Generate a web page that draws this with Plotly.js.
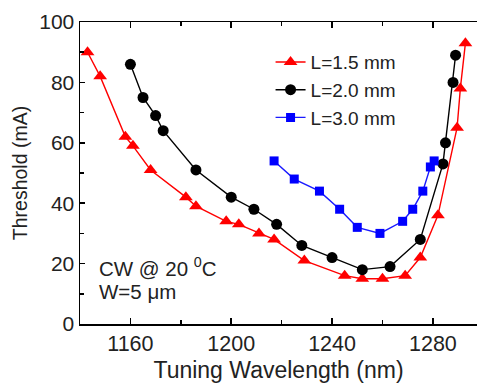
<!DOCTYPE html>
<html>
<head>
<meta charset="utf-8">
<script src="https://cdn.plot.ly/plotly-3.0.1.min.js"></script>
<style>
html,body{margin:0;padding:0;background:#fff;}
#chart{width:477px;height:383px;}
</style>
</head>
<body>
<div id="chart"></div>
<script>
var wl15 = [1143,1148,1158,1161,1168,1182,1186,1198,1203,1211,1217,1229,1245,1252,1260,1269,1275,1282,1289.6,1290.9,1292.9];
var th15 = [90,82,62,59,51,42,39,34,33,30,28,21,16,15,15,16,22,36,65,78,93];
var wl20 = [1160,1165,1170,1173,1186,1200,1209,1218,1228,1240,1252,1263,1275,1284,1285,1288,1289];
var th20 = [86,75,69,64,51,42,38,33,26,22,18,19,28,53,60,80,89];
var wl30 = [1217,1225,1235,1243,1250,1259,1268,1272,1276,1279,1280.5];
var th30 = [54,48,44,38,32,30,34,38,44,52,54];
var names = ["L=1.5 mm","L=2.0 mm","L=3.0 mm"];
var xTicks = [1160,1200,1240,1280];
var yTicks = [0,20,40,60,80,100];

var FONT = "Arial, 'Liberation Sans', sans-serif";

var traces = [
  {x: wl15, y: th15, name: names[0], mode: "lines+markers",
   line: {color: "#ff0000", width: 1.4},
   marker: {symbol: "triangle-up", size: 12, color: "#ff0000"}},
  {x: wl20, y: th20, name: names[1], mode: "lines+markers",
   line: {color: "#000000", width: 1.4},
   marker: {symbol: "circle", size: 11, color: "#000000"}},
  {x: wl30, y: th30, name: names[2], mode: "lines+markers",
   line: {color: "#1a1aff", width: 1.4},
   marker: {symbol: "square", size: 9, color: "#0000ff"}}
];

var layout = {
  width: 477, height: 383,
  margin: {l: 80, r: 0, t: 22, b: 59},
  paper_bgcolor: "#fff", plot_bgcolor: "#fff",
  font: {family: FONT, color: "#222"},
  showlegend: true,
  legend: {x: 0.48, y: 0.93, xanchor: "left", yanchor: "top",
           bgcolor: "rgba(0,0,0,0)", font: {size: 19, family: FONT, color: "#222"},
           tracegroupgap: 0, itemwidth: 30},
  xaxis: {range: [1140, 1297.5], tickvals: xTicks, ticktext: xTicks.map(String),
          ticks: "inside", ticklen: 6, tickwidth: 1.5, tickcolor: "#000",
          minor: {dtick: 20, ticks: "inside", ticklen: 4, tickwidth: 1.5, tickcolor: "#000"},
          showline: true, linecolor: "#000", linewidth: 1.5, mirror: "ticks",
          showgrid: false, zeroline: false,
          tickfont: {size: 21.5, family: FONT, color: "#222"},
          title: {text: "Tuning Wavelength (nm)", font: {size: 23, family: FONT, color: "#222"}, standoff: 6}},
  yaxis: {range: [0, 100], tickvals: yTicks, ticktext: yTicks.map(String),
          ticks: "inside", ticklen: 5, tickwidth: 1.5, tickcolor: "#000",
          minor: {dtick: 10, ticks: "inside", ticklen: 4, tickwidth: 1.5, tickcolor: "#000"},
          showline: true, linecolor: "#000", linewidth: 1.5,
          showgrid: false, zeroline: false,
          tickfont: {size: 21, family: FONT, color: "#222"},
          title: {text: "Threshold (mA)", font: {size: 19.5, family: FONT, color: "#222"}, standoff: 6}},
  annotations: [
    {xref: "paper", yref: "paper", x: 0.043, y: 0.19, xanchor: "left", yanchor: "middle",
     showarrow: false, text: "CW @ 20 <sup>0</sup>C", font: {size: 20.5, family: FONT, color: "#222"}},
    {xref: "paper", yref: "paper", x: 0.043, y: 0.107, xanchor: "left", yanchor: "middle",
     showarrow: false, text: "W=5 μm", font: {size: 20.5, family: FONT, color: "#222"}}
  ]
};

Plotly.newPlot("chart", traces, layout, {staticPlot: true, displayModeBar: false});
</script>
</body>
</html>
